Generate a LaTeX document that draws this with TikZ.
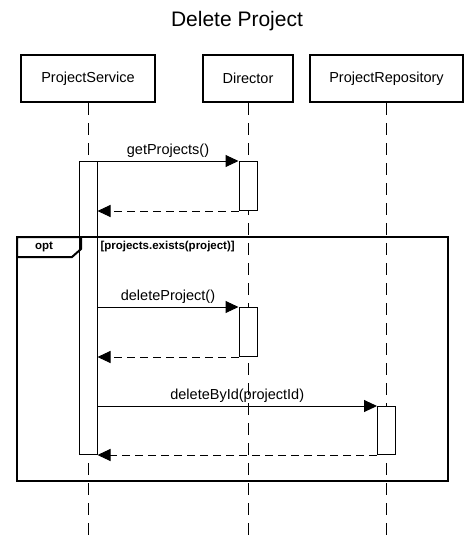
\documentclass[tikz,border=0pt]{standalone}
\usepackage{fontspec}
\setmainfont{Liberation Sans}
\usetikzlibrary{arrows.meta}

\begin{document}
\begin{tikzpicture}[x=1pt,y=-1pt,
  part/.style={draw,line width=2pt,minimum height=47pt,font=\fontsize{14.5}{17}\selectfont},
  life/.style={line width=1pt,dash pattern=on 12pt off 8pt},
  act/.style={draw,fill=white,line width=1pt,minimum width=18pt,inner sep=0pt,anchor=north},
  msg/.style={line width=1pt,-{Triangle[length=13pt,width=12pt]}},
  ret/.style={msg,dash pattern=on 8pt off 5pt},
  lbl/.style={font=\fontsize{14.5}{17}\selectfont,above,inner sep=3pt},
  frame/.style={line width=2pt},
  small/.style={font=\bfseries\fontsize{11.5}{13}\selectfont}]
\useasboundingbox (0,0) rectangle (475,542);

\node[font=\fontsize{21}{25}\selectfont,anchor=base] (title) at (237,26.5) {Delete Project};

\node[part,minimum width=134pt] (ps) at (88,78.5) {ProjectService};
\node[part,minimum width=90pt] (dir) at (248,78.5) {Director};
\node[part,minimum width=153pt] (repo) at (386.5,78.5) {ProjectRepository};

\coordinate (psEnd) at (ps |- 0,542);
\coordinate (dirEnd) at (dir |- 0,542);
\coordinate (repoEnd) at (repo |- 0,542);

\draw[life] (ps.south) -- (psEnd);
\draw[life] (dir.south) -- (dirEnd);
\draw[life] (repo.south) -- (repoEnd);

\node[act,minimum height=293pt] (psA) at (ps |- 0,161) {};
\node[act,minimum height=49pt] (dirA1) at (dir |- 0,161) {};
\node[act,minimum height=49pt] (dirA2) at (dir |- 0,307) {};
\node[act,minimum height=48pt] (repA) at (repo |- 0,406) {};

\coordinate (optTL) at (17,237);
\coordinate (optBR) at (448,481);
\draw[frame] (optTL) rectangle (optBR);
\draw[frame] (optTL) -| (81,249) -- (72,257) -| (optTL);
\node[small] (optLbl) at (44,247) {opt};
\node[small,anchor=west] (guard) at (97,247) {[projects.exists(project)]};

\draw[msg] (psA.north east) -- node[lbl] (getLbl) {getProjects()} (dirA1.north west);
\draw[ret] (dirA1.south west) -- (dirA1.south west -| psA.east);
\draw[msg] (psA.east |- dirA2.north) -- node[lbl] (delLbl) {deleteProject()} (dirA2.north west);
\draw[ret] (dirA2.south west) -- (dirA2.south west -| psA.east);
\draw[msg] (psA.east |- repA.north) -- node[lbl] (byIdLbl) {deleteById(projectId)} (repA.north west);
\draw[ret] (repA.south west) -- (psA.south east);
\end{tikzpicture}
\end{document}
